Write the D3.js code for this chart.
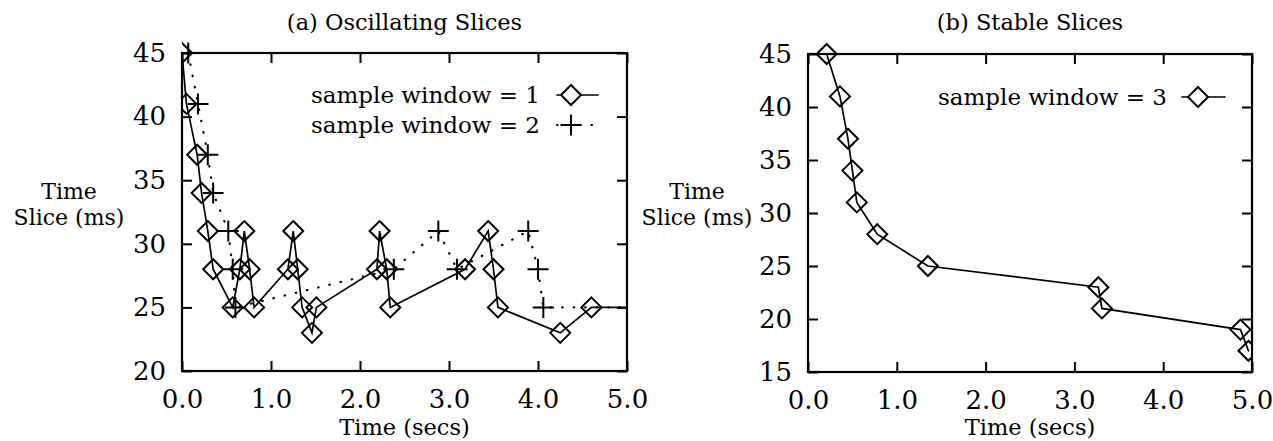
<!DOCTYPE html>
<html>
<head>
<meta charset="utf-8">
<script src="https://cdn.jsdelivr.net/npm/d3@7"></script>
<style>
  html, body { margin: 0; padding: 0; background: #fff; }
  svg { display: block; }
  text { font-family: "DejaVu Serif", "Liberation Serif", serif; fill: #000; }
</style>
</head>
<body>
<svg id="chart" width="1273" height="441"></svg>
<script>
// ---------- data ----------
// (a) Oscillating Slices: [time (secs), slice (ms)]
const oscWindow1 = [
  [0.00, 45], [0.05, 41], [0.17, 37], [0.22, 34], [0.29, 31], [0.35, 28],
  [0.57, 25], [0.65, 28], [0.70, 31], [0.76, 28], [0.81, 25],
  [1.19, 28], [1.25, 31], [1.30, 28], [1.35, 25], [1.46, 23], [1.51, 25],
  [2.19, 28], [2.22, 31], [2.30, 28], [2.34, 25],
  [3.18, 28], [3.44, 31], [3.50, 28], [3.55, 25], [4.25, 23], [4.60, 25], [5.30, 25]
];
const oscWindow2 = [
  [0.07, 45], [0.18, 41], [0.29, 37], [0.35, 34], [0.52, 31], [0.57, 28], [0.60, 25],
  [2.38, 28], [2.88, 31], [3.09, 28], [3.89, 31], [4.00, 28], [4.06, 25], [5.30, 25]
];
// (b) Stable Slices
const stableWindow3 = [
  [0.21, 45], [0.36, 41], [0.45, 37], [0.50, 34], [0.55, 31], [0.78, 28],
  [1.35, 25], [3.27, 23], [3.31, 21], [4.87, 19], [4.96, 17]
];
const xTicks = [0, 1, 2, 3, 4, 5];
const xTickLabels = ["0.0", "1.0", "2.0", "3.0", "4.0", "5.0"];
const yTicksA = [20, 25, 30, 35, 40, 45];
const yTicksB = [15, 20, 25, 30, 35, 40, 45];
const titles = ["(a) Oscillating Slices", "(b) Stable Slices"];
const legendA = ["sample window = 1", "sample window = 2"];
const legendB = ["sample window = 3"];

// ---------- drawing ----------
const FONT = "'DejaVu Serif', 'Liberation Serif', serif";
const svg = d3.select("#chart");

function panel(cfg) {
  const { left, right, top, bottom, yDomain, yTicks, title, id } = cfg;
  const x = d3.scaleLinear().domain([0, 5]).range([left, right]);
  const y = d3.scaleLinear().domain(yDomain).range([bottom, top]);
  const g = svg.append("g");

  svg.append("clipPath").attr("id", id).append("rect")
    .attr("x", left).attr("y", top - 12).attr("width", right - left).attr("height", bottom - top + 24);

  const fmt = (d) => xTickLabels[xTicks.indexOf(d)];
  const ax = g.append("g").attr("transform", `translate(0,${bottom})`)
    .call(d3.axisBottom(x).tickValues(xTicks).tickFormat(fmt).tickSize(-10).tickPadding(19));
  const at = g.append("g").attr("transform", `translate(0,${top})`)
    .call(d3.axisTop(x).tickValues(xTicks).tickFormat("").tickSize(-10));
  const al = g.append("g").attr("transform", `translate(${left},0)`)
    .call(d3.axisLeft(y).tickValues(yTicks).tickFormat(d3.format("d")).tickSize(-10).tickPadding(16));
  const ar = g.append("g").attr("transform", `translate(${right},0)`)
    .call(d3.axisRight(y).tickValues(yTicks).tickFormat("").tickSize(-10));
  [ax, at, al, ar].forEach(a => {
    a.attr("font-family", FONT);
    a.select(".domain").remove();
    a.selectAll("line").attr("stroke", "#000").attr("stroke-width", 2);
    a.selectAll("text").attr("font-size", 26).attr("font-family", FONT).attr("fill", "#000");
  });

  g.append("rect").attr("x", left).attr("y", top).attr("width", right - left).attr("height", bottom - top)
    .attr("fill", "none").attr("stroke", "#000").attr("stroke-width", 2.2);

  g.append("text").attr("x", (left + right) / 2).attr("y", 30).attr("text-anchor", "middle")
    .attr("font-size", 22.5).attr("font-family", FONT).text(title);
  g.append("text").attr("x", (left + right) / 2).attr("y", 435).attr("text-anchor", "middle")
    .attr("font-size", 22.5).attr("font-family", FONT).text("Time (secs)");
  g.append("text").attr("x", cfg.yLabelX).attr("y", 199).attr("text-anchor", "middle")
    .attr("font-size", 22).attr("font-family", FONT).text("Time");
  g.append("text").attr("x", cfg.yLabelX).attr("y", 225).attr("text-anchor", "middle")
    .attr("font-size", 22).attr("font-family", FONT).text("Slice (ms)");

  const plot = g.append("g").attr("clip-path", `url(#${id})`);
  return { x, y, g, plot };
}

const diamond = (cx, cy, r) => `M${cx},${cy - r}L${cx + r},${cy}L${cx},${cy + r}L${cx - r},${cy}Z`;
const plus = (cx, cy, r) => `M${cx - r},${cy}H${cx + r}M${cx},${cy - r}V${cy + r}`;

function drawSeries(p, data, style) {
  const line = d3.line().x(d => p.x(d[0])).y(d => p.y(d[1]));
  p.plot.append("path").datum(data).attr("d", line).attr("fill", "none")
    .attr("stroke", "#000").attr("stroke-width", style.dotted ? 2.2 : 1.7)
    .attr("stroke-dasharray", style.dotted ? "0.5,11" : null)
    .attr("stroke-linecap", "round");
  p.plot.selectAll(null).data(data).enter().append("path")
    .attr("d", d => style.marker === "diamond" ? diamond(p.x(d[0]), p.y(d[1]), 10) : plus(p.x(d[0]), p.y(d[1]), 10.5))
    .attr("fill", "none").attr("stroke", "#000").attr("stroke-width", 2);
}

function legendEntry(p, label, textX, yBase, lineX0, lineX1, markX, style) {
  p.g.append("text").attr("x", textX).attr("y", yBase).attr("text-anchor", "end")
    .attr("font-size", 23).attr("font-family", FONT).text(label);
  const ly = yBase - 8;
  p.g.append("line").attr("x1", lineX0).attr("x2", lineX1).attr("y1", ly).attr("y2", ly)
    .attr("stroke", "#000").attr("stroke-width", style.dotted ? 2.2 : 1.7)
    .attr("stroke-dasharray", style.dotted ? "0.5,11" : null).attr("stroke-linecap", "round");
  p.g.append("path")
    .attr("d", style.marker === "diamond" ? diamond(markX, ly, 10) : plus(markX, ly, 10.5))
    .attr("fill", style.marker === "diamond" ? "#fff" : "none").attr("stroke", "#000").attr("stroke-width", 2);
}

const pA = panel({ id: "clipA", left: 182, right: 627, top: 53, bottom: 371,
  yDomain: [20, 45], yTicks: yTicksA, title: titles[0], yLabelX: 69 });
drawSeries(pA, oscWindow2, { dotted: true, marker: "plus" });
drawSeries(pA, oscWindow1, { dotted: false, marker: "diamond" });
legendEntry(pA, legendA[0], 540, 103, 557, 598, 571, { dotted: false, marker: "diamond" });
legendEntry(pA, legendA[1], 540, 133, 557, 598, 571, { dotted: true, marker: "plus" });

const pB = panel({ id: "clipB", left: 808, right: 1252, top: 54, bottom: 372,
  yDomain: [15, 45], yTicks: yTicksB, title: titles[1], yLabelX: 697 });
drawSeries(pB, stableWindow3, { dotted: false, marker: "diamond" });
legendEntry(pB, legendB[0], 1167, 105, 1182, 1225, 1198, { dotted: false, marker: "diamond" });
</script>
</body>
</html>
